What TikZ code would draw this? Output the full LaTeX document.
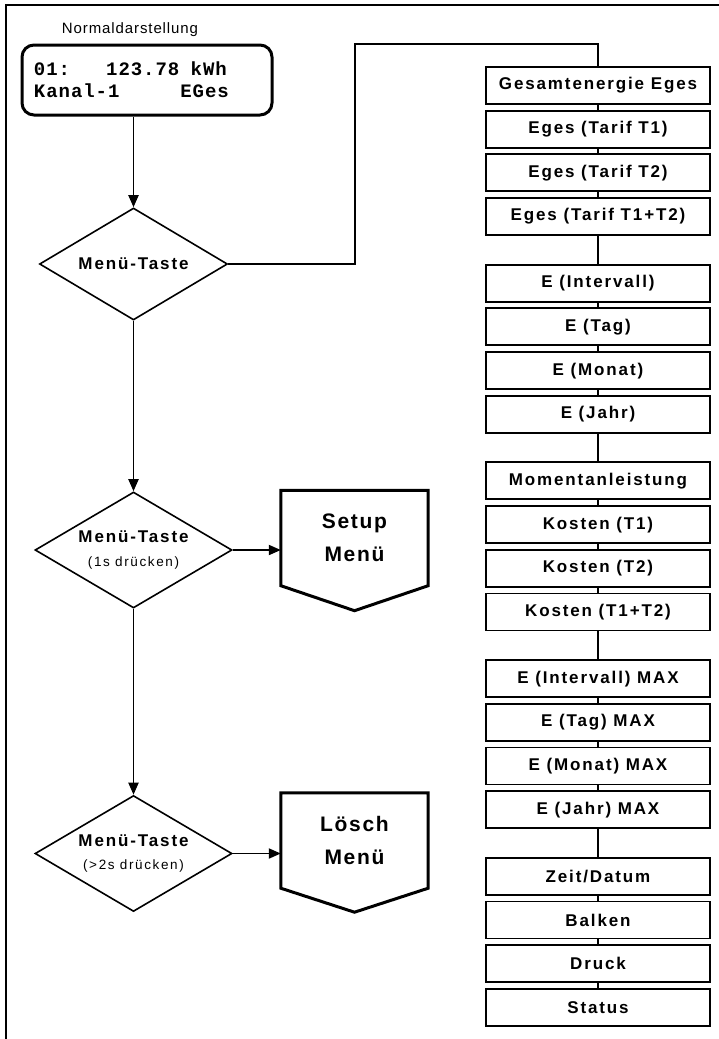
\documentclass[tikz,border=0pt]{standalone}
\usepackage{fontspec}
\setmainfont{Liberation Sans}
\newfontfamily\lcdfam{Liberation Mono}
\usetikzlibrary{arrows.meta,calc,shapes.geometric}
\newcommand\boldtxt{\fontsize{17}{24}\selectfont\bfseries\addfontfeatures{LetterSpace=11}}
\newcommand\smalltxt{\fontsize{13.5}{24}\selectfont\mdseries\addfontfeatures{LetterSpace=12}}
\newcommand\bigtxt{\fontsize{21}{33}\selectfont\bfseries\addfontfeatures{LetterSpace=8}}
\newcommand\normtxt{\fontsize{15}{16}\selectfont\addfontfeatures{LetterSpace=6}}
\newcommand\lcdtxt{\lcdfam\bfseries\fontsize{19}{22}\selectfont\addfontfeatures{LetterSpace=5}}
\newcommand\lcdgap[1]{\hphantom{#1}}
\tikzset{
  conn/.style={line width=1.9pt},
  arr/.style={conn,-{Triangle[length=12pt,width=10pt]}},
  dia/.style={diamond,draw,line width=1.6pt,inner sep=0pt,aspect=1.7,
    minimum width=197pt,minimum height=116pt,align=center,font=\boldtxt},
  listbox/.style={draw,line width=1.9pt,fill=white,minimum width=224pt,
    minimum height=37pt,inner sep=0pt,font=\boldtxt},
  offpage/.style={minimum width=147pt,minimum height=95pt,inner sep=0pt,
    align=center,font=\bigtxt},
  thickline/.style={line width=3pt,line join=miter},
}
\begin{document}
\begin{tikzpicture}[x=1pt,y=-1pt]
\useasboundingbox (0,0) rectangle (719,1039);
% frame
\draw[line width=1.8pt] (6,1039) -- (6,5) -- (719,5);
% heading and display
\node (title) at (130,30) {\normtxt Normaldarstellung};
\node[draw,line width=3pt,rounded corners=12pt,minimum height=70pt,
  text width=226pt,inner xsep=12pt,inner ysep=0pt,align=left,font=\lcdtxt]
  (lcd) at (147,80) {01:\lcdgap{000}123.78\lcdgap{0}kWh\\Kanal-1\lcdgap{00000}EGes};
% decisions
\node[dia,aspect=1.68,minimum width=188pt,minimum height=112pt] (d1) at (133.5,264) {Menü-Taste};
\node[dia] (d2) at (133.5,550) {Menü-Taste\\{\smalltxt (1s drücken)}};
\node[dia] (d3) at (133.5,853.5) {Menü-Taste\\{\smalltxt (>2s drücken)}};
% off-page menus
\node[offpage] (setup) at (354.5,538) {Setup\\Menü};
\draw[thickline] (setup.north west) -- (setup.north east) -- (setup.south east)
  -- ($(setup.south)+(0,25)$) -- (setup.south west) -- cycle;
\node[offpage] (loesch) at (354.5,840.5) {Lösch\\Menü};
\draw[thickline] (loesch.north west) -- (loesch.north east) -- (loesch.south east)
  -- ($(loesch.south)+(0,24)$) -- (loesch.south west) -- cycle;
% list
\foreach \t [count=\k from 0] in {Gesamtenergie Eges,Eges (Tarif T1),Eges (Tarif T2),Eges (Tarif T1+T2),
  E (Intervall),E (Tag),E (Monat),E (Jahr),
  Momentanleistung,Kosten (T1),Kosten (T2),Kosten (T1+T2),
  E (Intervall) MAX,E (Tag) MAX,E (Monat) MAX,E (Jahr) MAX,
  Zeit/Datum,Balken,Druck,Status}{
  \pgfmathtruncatemacro\g{int(\k/4)}
  \pgfmathsetmacro\cy{85.5+\g*197.7+mod(\k,4)*43.7}
  \node[listbox] (b\k) at (598,\cy) {\t};
}
\foreach \k in {1,...,19}{
  \pgfmathtruncatemacro\p{\k-1}
  \draw[conn] (b\p.south) -- (b\k.north);
}
% connectors
\coordinate (turn) at (355,44);
\draw[conn] (d1.east) -| (turn) -| (b0.north);
\draw[arr] (lcd.south -| d1.north) -- (d1.north);
\draw[arr] (d1.south) -- (d2.north);
\draw[arr] (d2.south) -- (d3.north);
\draw[arr] (d2.east) -- (d2.east -| setup.west);
\draw[arr] (d3.east) -- (d3.east -| loesch.west);
\end{tikzpicture}
\end{document}
